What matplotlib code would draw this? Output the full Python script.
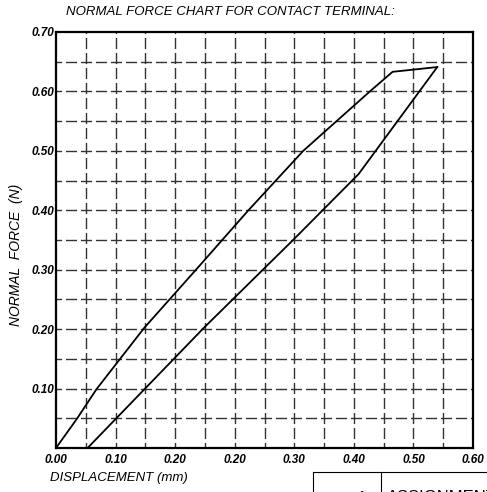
import numpy as np
import matplotlib
matplotlib.use("Agg")
import matplotlib.pyplot as plt
from matplotlib.lines import Line2D

# underlying grid units: one cell = 0.05 on both axes
load_x = [0.000, 0.035, 0.068, 0.148, 0.235, 0.323, 0.415, 0.528, 0.565, 0.640]
load_y = [0.000, 0.049, 0.099, 0.202, 0.300, 0.400, 0.500, 0.601, 0.633, 0.641]

unload_x = [0.053, 0.248, 0.398, 0.508, 0.640]
unload_y = [0.000, 0.202, 0.350, 0.461, 0.641]

x_ticks = [0.0, 0.1, 0.2, 0.3, 0.4, 0.5, 0.6, 0.7]
x_tick_labels = ['0.00', '0.10', '0.20', '0.20', '0.30', '0.40', '0.50', '0.60']
y_ticks = [0.1, 0.2, 0.3, 0.4, 0.5, 0.6, 0.7]
y_tick_labels = ['0.10', '0.20', '0.30', '0.40', '0.50', '0.60', '0.70']

FONT = ['Liberation Sans', 'DejaVu Sans']

fig = plt.figure(figsize=(4.87, 4.92), dpi=100)
ax = fig.add_axes([56/487, 1-448/492, 417/487, 416/492])
ax.set_xlim(0, 0.7)
ax.set_ylim(0, 0.7)

# dashed grid, dash centred on every crossing
dash = (4.0, (8.0, 2.8))
for g in np.arange(0.05, 0.70, 0.05):
    ax.axvline(g, color='#333333', lw=1.0, linestyle=dash, zorder=1)
    ax.axhline(g, color='#333333', lw=1.0, linestyle=dash, zorder=1)

ax.plot(load_x, load_y, color='black', lw=1.3, zorder=3)
ax.plot(unload_x, unload_y, color='black', lw=1.3, zorder=3)

for s in ax.spines.values():
    s.set_linewidth(1.6)
    s.set_color('black')

ax.set_xticks(x_ticks)
ax.set_xticklabels(x_tick_labels)
ax.set_yticks(y_ticks)
ax.set_yticklabels(y_tick_labels)
ax.tick_params(length=0, pad=4)
for lab in ax.get_xticklabels() + ax.get_yticklabels():
    lab.set_fontstyle('italic')
    lab.set_fontweight('bold')
    lab.set_fontsize(8.5)
    lab.set_family(FONT)
ax.tick_params(axis='y', pad=1)

fig.text(230/487, 1-12/492, 'NORMAL FORCE CHART FOR CONTACT TERMINAL:',
         fontsize=9.5, style='italic', family=FONT, ha='center', va='center')
fig.text(50/487, 1-478/492, 'DISPLACEMENT (mm)', fontsize=9.5, style='italic',
         family=FONT, ha='left', va='center')
fig.text(16/487, 1-255/492, 'NORMAL  FORCE  (N)', fontsize=10, style='italic',
         family=FONT, ha='center', va='center', rotation=90)

# corner of the title block below the chart
fig.add_artist(Line2D([313/487, 1], [1-472/492]*2, color='black', lw=0.8))
fig.add_artist(Line2D([313/487]*2, [1-472/492, 0], color='black', lw=0.8))
fig.add_artist(Line2D([381/487]*2, [1-472/492, 0], color='black', lw=0.8))
fig.text(362/487, 1-490/492, '1', fontsize=11, family=FONT, ha='center', va='top')
fig.text(387/487, 1-490/492, 'ASSIGNMENT', fontsize=12, family=FONT, ha='left', va='top')

fig.savefig('out.png', dpi=100)
